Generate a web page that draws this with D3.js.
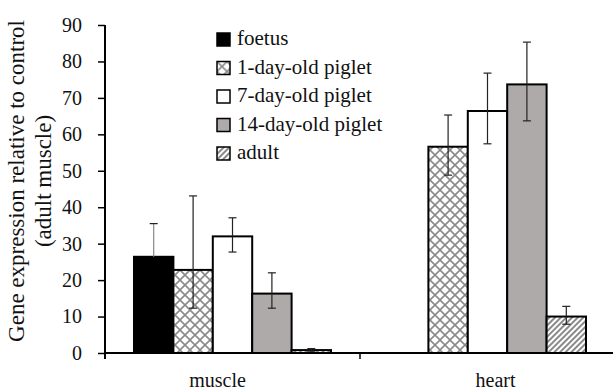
<!DOCTYPE html>
<html>
<head>
<meta charset="utf-8">
<script src="https://cdn.jsdelivr.net/npm/d3@7"></script>
<style>
  body { margin: 0; background: #fff; }
</style>
</head>
<body>
<svg id="chart" width="613" height="392"></svg>
<script>
const categories = ['muscle', 'heart']
const series = ['foetus', '1-day-old piglet', '7-day-old piglet', '14-day-old piglet', 'adult']
const means = {
  muscle: [26.4, 22.8, 32.0, 16.3, 0.8],
  heart: [null, 56.6, 66.4, 73.7, 10.0]
}
const lows = {
  muscle: [17.5, 12.3, 27.7, 12.3, 0.5],
  heart: [null, 48.8, 57.4, 63.7, 7.9]
}
const highs = {
  muscle: [35.5, 43.1, 37.1, 22.0, 1.2],
  heart: [null, 65.3, 76.8, 85.3, 12.8]
}
const yTicks = [0, 10, 20, 30, 40, 50, 60, 70, 80, 90]

const FONT = '"Liberation Serif", "Times New Roman", serif'
const svg = d3.select('#chart').attr('font-family', FONT)
const width = 613
const plotTop = 25, plotBottom = 353, plotLeft = 105

// patterns
const defs = svg.append('defs')
const cross = defs.append('pattern')
  .attr('id', 'cross').attr('patternUnits', 'userSpaceOnUse')
  .attr('width', 10).attr('height', 10)
cross.append('rect').attr('width', 10).attr('height', 10).attr('fill', '#fff')
cross.append('path').attr('d', 'M0,0L10,10M10,0L0,10M-1,9L1,11M9,-1L11,1')
  .attr('stroke', '#8a8a8a').attr('stroke-width', 1.6)

const stripe = defs.append('pattern')
  .attr('id', 'stripe').attr('patternUnits', 'userSpaceOnUse')
  .attr('width', 4).attr('height', 4)
  .attr('patternTransform', 'rotate(45)')
stripe.append('rect').attr('width', 4).attr('height', 4).attr('fill', '#fff')
stripe.append('line').attr('x1', 1).attr('x2', 1).attr('y1', 0).attr('y2', 4)
  .attr('stroke', '#8a8a8a').attr('stroke-width', 2)

const fills = ['#000', 'url(#cross)', '#fff', '#aeaaaa', 'url(#stripe)']

const y = d3.scaleLinear([0, 90], [plotBottom, plotTop])
const x0 = d3.scaleBand(categories, [plotLeft, 615])
const x1 = d3.scaleBand(series, [29, 226])

// bars
const rows = categories.flatMap(c => series.map((s, i) => ({
  cat: c, s, i, v: means[c][i], lo: lows[c][i], hi: highs[c][i]
}))).filter(d => d.v !== null)

svg.append('g').selectAll('rect').data(rows).join('rect')
  .attr('x', d => x0(d.cat) + x1(d.s))
  .attr('y', d => y(d.v))
  .attr('width', x1.bandwidth())
  .attr('height', d => y(0) - y(d.v))
  .attr('fill', d => fills[d.i])
  .attr('stroke', '#000')
  .attr('stroke-width', 2)

// error bars (lower half black, upper half grey over the black foetus bar)
const cx = d => x0(d.cat) + x1(d.s) + x1.bandwidth() / 2
const eb = svg.append('g').selectAll('g').data(rows).join('g')
  .attr('stroke-width', 1.2)
eb.append('line')
  .attr('stroke', d => d.i === 0 ? '#000' : '#222')
  .attr('x1', cx).attr('x2', cx)
  .attr('y1', d => y(d.lo)).attr('y2', d => y(d.v))
eb.append('line')
  .attr('stroke', d => d.i === 0 ? '#888' : '#222')
  .attr('x1', cx).attr('x2', cx)
  .attr('y1', d => y(d.v)).attr('y2', d => y(d.hi))
eb.append('line')
  .attr('stroke', d => d.i === 0 ? '#000' : '#222')
  .attr('x1', d => cx(d) - 4).attr('x2', d => cx(d) + 4)
  .attr('y1', d => y(d.lo)).attr('y2', d => y(d.lo))
eb.append('line')
  .attr('stroke', '#222')
  .attr('x1', d => cx(d) - 4).attr('x2', d => cx(d) + 4)
  .attr('y1', d => y(d.hi)).attr('y2', d => y(d.hi))

// y axis
const yAxis = svg.append('g').attr('transform', `translate(${plotLeft},0)`)
  .call(d3.axisLeft(y).tickValues(yTicks).tickSize(7).tickPadding(16))
  .attr('font-family', FONT).attr('font-size', 20)
yAxis.select('.domain').remove()
yAxis.selectAll('line').attr('stroke-width', 1.5)
yAxis.selectAll('text').attr('fill', '#111')

// axis lines
svg.append('line').attr('x1', plotLeft).attr('x2', plotLeft)
  .attr('y1', y(90)).attr('y2', y(0) + 6)
  .attr('stroke', '#000').attr('stroke-width', 2)
svg.append('line').attr('x1', plotLeft).attr('x2', width)
  .attr('y1', y(0)).attr('y2', y(0))
  .attr('stroke', '#000').attr('stroke-width', 2)

// x axis: labels + boundary tick
const labelNudge = { muscle: -15, heart: 8 }
const xAxis = svg.append('g').attr('transform', `translate(0,${plotBottom})`)
  .call(d3.axisBottom(x0).tickSize(0).tickPadding(20))
  .attr('font-family', FONT).attr('font-size', 20)
xAxis.select('.domain').remove()
xAxis.selectAll('text').attr('fill', '#111').attr('dx', d => labelNudge[d])
svg.append('line')
  .attr('x1', x0('heart')).attr('x2', x0('heart'))
  .attr('y1', y(0)).attr('y2', y(0) + 6)
  .attr('stroke', '#000').attr('stroke-width', 1.5)

// y label
const yl = svg.append('text')
  .attr('transform', 'translate(0,181) rotate(-90)')
  .attr('text-anchor', 'middle').attr('font-size', 23).attr('fill', '#111')
yl.append('tspan').attr('x', 0).attr('y', 24).text('Gene expression relative to control')
yl.append('tspan').attr('x', 0).attr('y', 51).text('(adult muscle)')

// legend
const leg = svg.append('g').selectAll('g').data(series).join('g')
  .attr('transform', (d, i) => `translate(217,${33 + i * 28.5})`)
leg.append('rect').attr('width', 13).attr('height', 13)
  .attr('fill', (d, i) => fills[i]).attr('stroke', '#000').attr('stroke-width', 1.5)
leg.append('text').attr('x', 20).attr('y', 12)
  .attr('font-size', 21).attr('fill', '#111').text(d => d)
</script>
</body>
</html>
